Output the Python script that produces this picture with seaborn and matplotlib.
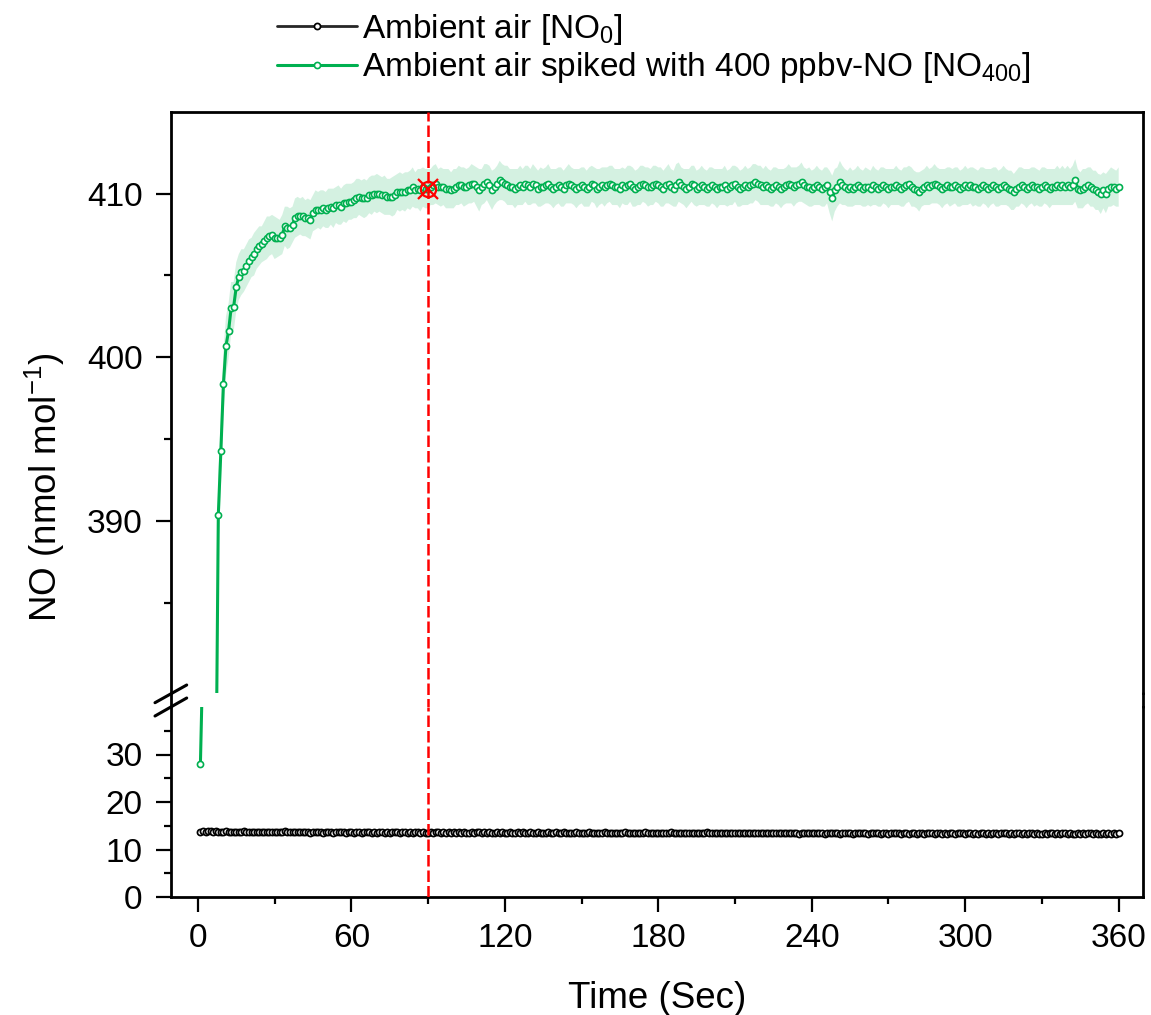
import numpy as np
import pandas as pd
import matplotlib
matplotlib.use("Agg")
import matplotlib.pyplot as plt
import seaborn as sns
from matplotlib.lines import Line2D

# time axis (s)
time_s = list(range(1, 361))

# ambient air NO (nmol/mol)
no_ambient = [
    13.7, 13.8, 13.7, 13.9, 13.8, 13.7, 13.8, 13.7, 13.6, 13.7, 13.8, 13.7, 13.6, 13.7, 13.7, 13.6, 13.7, 13.8, 13.7, 13.6,
    13.7, 13.6, 13.7, 13.7, 13.6, 13.7, 13.6, 13.7, 13.6, 13.6, 13.7, 13.6, 13.7, 13.8, 13.6, 13.7, 13.6, 13.6, 13.7, 13.6,
    13.6, 13.7, 13.6, 13.5, 13.6, 13.7, 13.6, 13.6, 13.5, 13.6, 13.7, 13.6, 13.5, 13.6, 13.6, 13.7, 13.6, 13.5, 13.6, 13.6,
    13.5, 13.6, 13.6, 13.5, 13.6, 13.7, 13.6, 13.5, 13.6, 13.5, 13.6, 13.6, 13.5, 13.6, 13.5, 13.6, 13.7, 13.6, 13.5, 13.6,
    13.6, 13.5, 13.6, 13.5, 13.6, 13.6, 13.5, 13.6, 13.5, 13.5, 13.6, 13.5, 13.6, 13.6, 13.5, 13.6, 13.5, 13.6, 13.5, 13.6,
    13.5, 13.6, 13.5, 13.6, 13.5, 13.5, 13.6, 13.5, 13.6, 13.7, 13.5, 13.6, 13.5, 13.6, 13.5, 13.5, 13.6, 13.5, 13.6, 13.5,
    13.5, 13.6, 13.5, 13.5, 13.6, 13.5, 13.6, 13.5, 13.5, 13.6, 13.5, 13.5, 13.6, 13.5, 13.4, 13.5, 13.6, 13.5, 13.5, 13.6,
    13.5, 13.5, 13.6, 13.5, 13.4, 13.5, 13.5, 13.6, 13.5, 13.5, 13.4, 13.5, 13.6, 13.5, 13.5, 13.4, 13.5, 13.5, 13.6, 13.5,
    13.5, 13.4, 13.5, 13.5, 13.4, 13.5, 13.6, 13.5, 13.4, 13.5, 13.5, 13.4, 13.5, 13.5, 13.6, 13.5, 13.4, 13.5, 13.5, 13.4,
    13.5, 13.5, 13.4, 13.5, 13.6, 13.5, 13.4, 13.5, 13.4, 13.5, 13.5, 13.4, 13.5, 13.4, 13.5, 13.5, 13.4, 13.5, 13.6, 13.5,
    13.4, 13.5, 13.4, 13.5, 13.5, 13.4, 13.5, 13.4, 13.4, 13.5, 13.4, 13.5, 13.5, 13.4, 13.5, 13.4, 13.4, 13.5, 13.4, 13.5,
    13.4, 13.5, 13.4, 13.4, 13.5, 13.4, 13.5, 13.4, 13.4, 13.5, 13.4, 13.4, 13.5, 13.4, 13.3, 13.4, 13.5, 13.4, 13.4, 13.5,
    13.4, 13.4, 13.5, 13.4, 13.3, 13.4, 13.4, 13.5, 13.4, 13.4, 13.3, 13.4, 13.4, 13.5, 13.4, 13.3, 13.4, 13.4, 13.5, 13.4,
    13.4, 13.3, 13.4, 13.4, 13.5, 13.4, 13.3, 13.4, 13.4, 13.3, 13.4, 13.4, 13.5, 13.4, 13.3, 13.4, 13.4, 13.3, 13.4, 13.4,
    13.3, 13.4, 13.4, 13.3, 13.4, 13.5, 13.4, 13.3, 13.4, 13.4, 13.3, 13.4, 13.3, 13.4, 13.4, 13.3, 13.4, 13.5, 13.4, 13.3,
    13.4, 13.4, 13.3, 13.4, 13.3, 13.4, 13.4, 13.3, 13.4, 13.3, 13.4, 13.4, 13.3, 13.4, 13.5, 13.4, 13.3, 13.4, 13.3, 13.4,
    13.4, 13.3, 13.4, 13.3, 13.4, 13.4, 13.3, 13.4, 13.3, 13.3, 13.4, 13.3, 13.4, 13.4, 13.3, 13.4, 13.3, 13.4, 13.4, 13.3,
    13.4, 13.3, 13.3, 13.4, 13.3, 13.4, 13.3, 13.4, 13.4, 13.3, 13.4, 13.3, 13.3, 13.4, 13.3, 13.4, 13.3, 13.4, 13.3, 13.5,
]

# ambient air spiked with 400 ppbv NO (nmol/mol)
no_spiked = [
    28.0, 52.0, 140.0, 230.0, 300.0, 345.0, 372.0, 390.4, 394.3, 398.4, 400.7, 401.6, 403.0, 403.1, 404.3, 404.9, 405.2, 405.3, 405.6, 405.9,
    406.1, 406.3, 406.6, 406.8, 406.9, 407.1, 407.3, 407.4, 407.5, 407.3, 407.3, 407.3, 407.5, 408.0, 407.9, 407.9, 408.1, 408.5, 408.6, 408.6,
    408.6, 408.5, 408.5, 408.4, 408.8, 409.0, 409.0, 409.0, 409.1, 409.0, 409.1, 409.2, 409.1, 409.3, 409.3, 409.2, 409.4, 409.4, 409.5, 409.5,
    409.6, 409.7, 409.8, 409.7, 409.7, 409.7, 409.9, 409.9, 410.0, 410.0, 410.0, 409.9, 409.9, 409.8, 409.8, 409.8, 409.9, 410.1, 410.1, 410.1,
    410.1, 410.2, 410.2, 410.4, 410.2, 410.3, 410.2, 410.4, 410.3, 410.3, 410.4, 410.5, 410.6, 410.4, 410.4, 410.4, 410.3, 410.3, 410.2, 410.3,
    410.4, 410.5, 410.5, 410.4, 410.4, 410.5, 410.6, 410.6, 410.4, 410.2, 410.4, 410.6, 410.7, 410.5, 410.2, 410.4, 410.6, 410.8, 410.7, 410.6,
    410.5, 410.4, 410.4, 410.3, 410.4, 410.5, 410.4, 410.6, 410.5, 410.4, 410.6, 410.5, 410.3, 410.4, 410.4, 410.5, 410.6, 410.4, 410.3, 410.4,
    410.5, 410.4, 410.3, 410.5, 410.6, 410.5, 410.4, 410.3, 410.4, 410.5, 410.4, 410.3, 410.4, 410.6, 410.5, 410.3, 410.4, 410.5, 410.4, 410.5,
    410.6, 410.5, 410.4, 410.4, 410.3, 410.5, 410.4, 410.5, 410.6, 410.4, 410.3, 410.4, 410.5, 410.6, 410.5, 410.4, 410.4, 410.5, 410.6, 410.5,
    410.4, 410.3, 410.5, 410.6, 410.4, 410.3, 410.5, 410.7, 410.5, 410.4, 410.3, 410.4, 410.6, 410.5, 410.3, 410.4, 410.5, 410.4, 410.3, 410.4,
    410.5, 410.4, 410.3, 410.4, 410.4, 410.5, 410.3, 410.4, 410.5, 410.6, 410.4, 410.3, 410.4, 410.5, 410.4, 410.5, 410.6, 410.7, 410.6, 410.5,
    410.4, 410.5, 410.4, 410.3, 410.4, 410.5, 410.4, 410.3, 410.4, 410.5, 410.6, 410.5, 410.4, 410.5, 410.6, 410.7, 410.5, 410.4, 410.4, 410.3,
    410.4, 410.5, 410.4, 410.3, 410.4, 410.5, 410.1, 409.7, 410.2, 410.4, 410.7, 410.5, 410.4, 410.3, 410.4, 410.3, 410.4, 410.5, 410.4, 410.3,
    410.4, 410.4, 410.3, 410.5, 410.4, 410.3, 410.4, 410.5, 410.4, 410.3, 410.4, 410.4, 410.5, 410.4, 410.3, 410.4, 410.5, 410.6, 410.4, 410.3,
    410.2, 410.1, 410.3, 410.4, 410.5, 410.4, 410.5, 410.6, 410.5, 410.4, 410.3, 410.4, 410.5, 410.4, 410.4, 410.5, 410.4, 410.3, 410.4, 410.5,
    410.4, 410.5, 410.4, 410.4, 410.3, 410.4, 410.5, 410.4, 410.3, 410.4, 410.5, 410.4, 410.3, 410.4, 410.5, 410.4, 410.3, 410.2, 410.1, 410.3,
    410.4, 410.5, 410.4, 410.3, 410.4, 410.5, 410.4, 410.4, 410.3, 410.4, 410.5, 410.4, 410.3, 410.4, 410.4, 410.5, 410.4, 410.5, 410.4, 410.5,
    410.4, 410.5, 410.8, 410.3, 410.2, 410.3, 410.4, 410.5, 410.4, 410.3, 410.2, 410.1, 409.95, 410.2, 410.0, 410.3, 410.4, 410.4, 410.3, 410.4,
]

# standard deviation of the spiked series (shaded band)
no_spiked_sd = [
    0, 0, 0, 0, 0, 0, 0, 2.4, 2.2, 2.0, 1.8, 1.7, 1.6, 1.5, 1.5, 1.4, 1.4, 1.3, 1.3, 1.3,
    1.2, 1.3, 1.2, 1.2, 1.1, 1.2, 1.3, 1.2, 1.2, 1.3, 1.2, 1.1, 1.2, 1.2, 1.3, 1.2, 1.1, 1.2, 1.2, 1.1,
    1.2, 1.1, 1.2, 1.2, 1.1, 1.2, 1.1, 1.2, 1.1, 1.1, 1.2, 1.1, 1.2, 1.1, 1.2, 1.1, 1.1, 1.2, 1.1, 1.1,
    1.1, 1.2, 1.1, 1.1, 1.2, 1.1, 1.1, 1.2, 1.1, 1.2, 1.1, 1.1, 1.2, 1.1, 1.1, 1.2, 1.2, 1.1, 1.2, 1.1,
    1.2, 1.1, 1.2, 1.2, 1.1, 1.2, 1.3, 1.2, 1.2, 1.2, 1.1, 1.2, 1.2, 1.1, 1.2, 1.1, 1.2, 1.2, 1.1, 1.2,
    1.1, 1.2, 1.1, 1.2, 1.1, 1.1, 1.2, 1.1, 1.2, 1.3, 1.1, 1.2, 1.1, 1.2, 1.2, 1.1, 1.1, 1.2, 1.1, 1.1,
    1.2, 1.1, 1.1, 1.2, 1.1, 1.2, 1.1, 1.1, 1.2, 1.1, 1.2, 1.1, 1.1, 1.2, 1.1, 1.1, 1.2, 1.1, 1.2, 1.1,
    1.1, 1.2, 1.1, 1.1, 1.2, 1.1, 1.1, 1.2, 1.1, 1.1, 1.2, 1.1, 1.2, 1.1, 1.1, 1.2, 1.1, 1.1, 1.2, 1.1,
    1.1, 1.2, 1.1, 1.1, 1.2, 1.1, 1.1, 1.2, 1.1, 1.2, 1.1, 1.1, 1.2, 1.1, 1.1, 1.2, 1.1, 1.2, 1.1, 1.1,
    1.2, 1.1, 1.1, 1.2, 1.1, 1.1, 1.3, 1.2, 1.1, 1.1, 1.2, 1.1, 1.1, 1.2, 1.1, 1.1, 1.2, 1.1, 1.1, 1.2,
    1.1, 1.1, 1.2, 1.1, 1.1, 1.2, 1.1, 1.1, 1.2, 1.1, 1.2, 1.1, 1.1, 1.2, 1.1, 1.1, 1.2, 1.1, 1.1, 1.2,
    1.1, 1.2, 1.1, 1.1, 1.2, 1.1, 1.1, 1.2, 1.1, 1.1, 1.2, 1.1, 1.2, 1.1, 1.1, 1.2, 1.1, 1.1, 1.2, 1.1,
    1.1, 1.2, 1.1, 1.1, 1.2, 1.1, 1.3, 1.4, 1.3, 1.2, 1.3, 1.2, 1.1, 1.1, 1.2, 1.1, 1.1, 1.2, 1.1, 1.1,
    1.2, 1.1, 1.1, 1.2, 1.1, 1.1, 1.2, 1.1, 1.1, 1.2, 1.1, 1.1, 1.2, 1.1, 1.1, 1.2, 1.1, 1.1, 1.2, 1.1,
    1.1, 1.2, 1.1, 1.1, 1.2, 1.1, 1.1, 1.2, 1.1, 1.1, 1.2, 1.1, 1.1, 1.2, 1.1, 1.1, 1.2, 1.1, 1.1, 1.2,
    1.1, 1.1, 1.2, 1.1, 1.1, 1.2, 1.1, 1.1, 1.2, 1.1, 1.1, 1.2, 1.1, 1.1, 1.2, 1.1, 1.1, 1.2, 1.1, 1.1,
    1.2, 1.1, 1.1, 1.2, 1.1, 1.1, 1.2, 1.1, 1.1, 1.2, 1.1, 1.1, 1.2, 1.1, 1.1, 1.2, 1.1, 1.2, 1.1, 1.2,
    1.1, 1.2, 1.3, 1.2, 1.1, 1.2, 1.1, 1.1, 1.2, 1.1, 1.2, 1.1, 1.2, 1.1, 1.2, 1.1, 1.2, 1.1, 1.1, 1.2,
]

marker_time = 90
legend_labels = [
    "Ambient air [NO$_{0}$]",
    "Ambient air spiked with 400 ppbv-NO [NO$_{400}$]",
]

GREEN = "#00B050"
DARK = "#262626"
RED = "#FF0000"


def main():
    sns.set_style("ticks")
    plt.rcParams["font.family"] = ["Liberation Sans", "DejaVu Sans"]
    plt.rcParams["mathtext.default"] = "regular"
    for key in ("text.color", "axes.labelcolor", "xtick.color", "ytick.color", "axes.edgecolor"):
        plt.rcParams[key] = "black"

    df = pd.DataFrame({"Time": time_s, "Ambient": no_ambient,
                       "Spiked": no_spiked, "SD": no_spiked_sd})

    W, H = 1151, 1015
    fig = plt.figure(figsize=(W / 100, H / 100), dpi=100)
    left, right = 171 / W, 1143 / W
    ax_top = fig.add_axes([left, 1 - 693 / H, right - left, (693 - 111.7) / H])
    ax_bot = fig.add_axes([left, 1 - 897 / H, right - left, (897 - 707) / H], sharex=ax_top)

    # shaded band (top only)
    ax_top.fill_between(df["Time"], df["Spiked"] - df["SD"], df["Spiked"] + df["SD"],
                        color=GREEN, alpha=0.17, lw=0, zorder=1)

    handles = []
    for ax in (ax_bot, ax_top):
        sns.lineplot(data=df, x="Time", y="Ambient", ax=ax, color=DARK, lw=2,
                     marker="o", markersize=4.4, markerfacecolor="white",
                     markeredgecolor="black", markeredgewidth=1.25, legend=False, zorder=3)
        h1 = ax.lines[-1]
        sns.lineplot(data=df, x="Time", y="Spiked", ax=ax, color=GREEN, lw=2.2,
                     marker="o", markersize=4.4, markerfacecolor="white",
                     markeredgecolor=GREEN, markeredgewidth=1.2, legend=False, zorder=3)
        h2 = ax.lines[-1]
        if not handles:
            handles = [h1, h2]

    # vertical reference line
    dash = dict(color=RED, lw=1.8, dashes=(4.6, 1.6), zorder=4)
    ax_top.axvline(marker_time, ymin=-0.03, ymax=1, clip_on=False, **dash)
    ax_bot.axvline(marker_time, **dash)
    y_mark = no_spiked[time_s.index(marker_time)]
    ax_top.plot(marker_time, y_mark, "o", ms=11, mfc="none", mec=RED, mew=1.6, zorder=5)
    ax_top.plot(marker_time, y_mark, "x", ms=14, mec=RED, mew=1.6, zorder=5)

    # limits and ticks
    ax_top.set_xlim(-10.5, 369.5)
    ax_top.set_ylim(379.5, 415)
    ax_bot.set_ylim(0, 40)
    ax_top.set_yticks([390, 400, 410])
    ax_top.set_yticks([385, 395, 405], minor=True)
    ax_bot.set_yticks([0, 10, 20, 30])
    ax_bot.set_yticks([5, 15, 25, 35], minor=True)
    ax_bot.set_xticks(range(0, 361, 60))
    ax_bot.set_xticks(range(30, 361, 60), minor=True)

    for ax in (ax_top, ax_bot):
        ax.set_xlabel("")
        ax.set_ylabel("")
        for s in ax.spines.values():
            s.set_linewidth(2)
            s.set_color("black")
        ax.tick_params(which="major", length=10.5, width=1.6, labelsize=24, color="black")
        ax.tick_params(which="minor", length=5, width=1.6, color="black")
        ax.tick_params(axis="y", which="major", pad=10)
        ax.tick_params(axis="x", which="major", pad=8)
    ax_top.spines["bottom"].set_visible(False)
    ax_bot.spines["top"].set_visible(False)
    ax_top.tick_params(axis="x", which="both", bottom=False, labelbottom=False)

    # spines across the gap and break marks
    gap_top, gap_bot = 1 - 693 / H, 1 - 707 / H
    for xs in (left, right):
        fig.add_artist(Line2D([xs, xs], [gap_bot, gap_top], transform=fig.transFigure,
                              color="black", lw=2))
    for y0, y1 in ((702.7, 685), (716, 698)):
        fig.add_artist(Line2D([155 / W, 186.7 / W], [1 - y0 / H, 1 - y1 / H],
                              transform=fig.transFigure, color="black", lw=2.2))

    ax_bot.set_xlabel("Time (Sec)", fontsize=26.5, labelpad=20)
    fig.text(45 / W, 1 - 487 / H, "NO (nmol mol$^{-1}$)", rotation=90,
             ha="center", va="center", fontsize=26.5)

    fig.legend(handles, legend_labels, loc="upper left",
               bbox_to_anchor=(277 / W, 1 - 12 / H), frameon=False, fontsize=24,
               handlelength=2.4, handletextpad=0.15, labelspacing=0.1,
               borderpad=0, borderaxespad=0)

    fig.savefig("out.png", dpi=100)
    plt.close(fig)


if __name__ == "__main__":
    main()
